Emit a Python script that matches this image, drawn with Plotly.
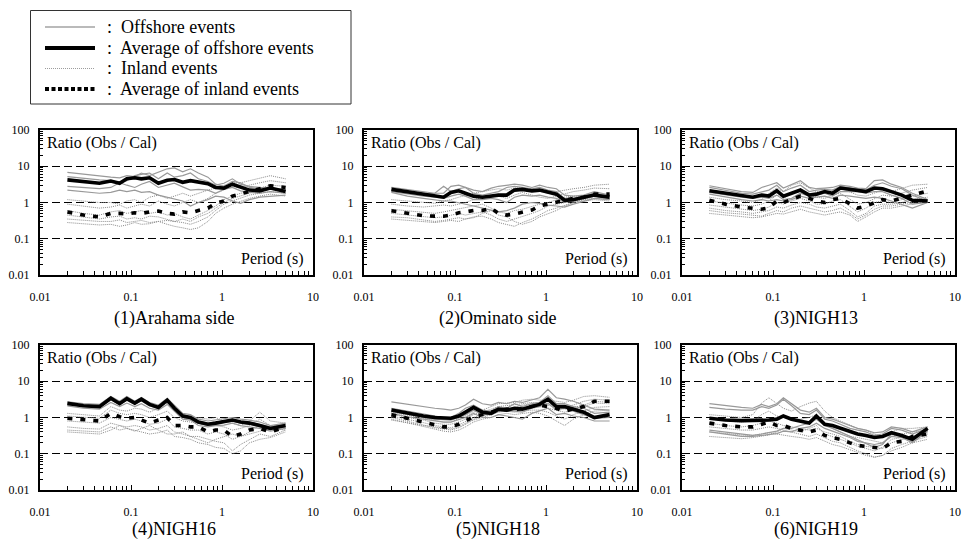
import plotly.graph_objects as go

# ---------------- data ----------------
PERIOD = [0.02, 0.03, 0.045, 0.06, 0.075, 0.09, 0.11, 0.13, 0.16, 0.2, 0.25, 0.3,
          0.37, 0.45, 0.55, 0.7, 0.85, 1.05, 1.3, 1.6, 2.0, 2.6, 3.4, 5.0]

TITLES = ["(1)Arahama side", "(2)Ominato side", "(3)NIGH13",
          "(4)NIGH16", "(5)NIGH18", "(6)NIGH19"]

X_TICKS = [0.01, 0.1, 1, 10]
X_TICK_TEXT = ["0.01", "0.1", "1", "10"]
Y_TICKS = [0.01, 0.1, 1, 10, 100]
Y_TICK_TEXT = ["0.01", "0.1", "1", "10", "100"]

LEGEND_LABELS = ["Offshore events", "Average of offshore events",
                 "Inland events", "Average of inland events"]

# (1) Arahama side
ARAHAMA_OFFSHORE = [
    [6.8, 6.0, 5.4, 5.0, 4.8, 5.5, 5.2, 6.5, 5.5, 7.0, 8.5, 9.0, 7.0, 8.5, 6.5, 5.0, 3.2, 2.8, 3.8, 3.5, 2.6, 2.4, 2.4, 2.1],
    [5.2, 4.6, 4.2, 4.0, 3.6, 4.0, 5.5, 6.0, 6.5, 4.5, 6.5, 5.0, 5.5, 6.5, 4.5, 3.8, 3.0, 3.4, 4.5, 3.2, 2.8, 2.6, 2.5, 2.3],
    [2.8, 2.6, 2.4, 2.6, 3.5, 3.0, 2.6, 3.2, 3.8, 2.6, 3.0, 3.4, 2.7, 2.2, 2.3, 2.2, 1.8, 2.3, 2.6, 2.1, 1.9, 1.8, 2.0, 1.8],
    [2.2, 2.0, 1.8, 1.9, 2.2, 2.0, 2.2, 1.9, 2.0, 1.6, 1.4, 1.2, 1.1, 0.8, 1.0, 1.2, 1.5, 1.4, 1.1, 0.95, 1.2, 1.4, 1.5, 1.6],
]
ARAHAMA_OFFSHORE_AVG = [4.2, 3.7, 3.4, 3.9, 3.4, 4.5, 4.8, 4.5, 4.8, 3.4, 4.1, 4.3, 3.6, 4.0, 3.6, 3.3, 2.6, 2.5, 3.2, 2.7, 2.2, 2.1, 2.5, 2.0]
ARAHAMA_INLAND = [
    [1.2, 1.1, 1.0, 1.0, 0.9, 1.1, 1.2, 1.0, 1.4, 1.6, 1.3, 1.5, 1.8, 1.5, 1.8, 2.2, 2.5, 3.0, 3.5, 3.5, 4.0, 4.5, 5.5, 4.5],
    [0.9, 0.8, 0.7, 0.75, 0.85, 0.7, 0.8, 0.9, 0.8, 1.1, 0.9, 0.8, 1.0, 1.2, 1.0, 1.3, 1.8, 2.2, 2.8, 2.5, 3.0, 3.5, 4.0, 3.5],
    [0.6, 0.5, 0.45, 0.55, 0.6, 0.5, 0.55, 0.6, 0.5, 0.55, 0.45, 0.5, 0.4, 0.35, 0.45, 0.6, 0.8, 1.2, 1.5, 1.8, 2.0, 2.2, 2.5, 2.2],
    [0.45, 0.4, 0.35, 0.4, 0.42, 0.35, 0.38, 0.35, 0.42, 0.4, 0.35, 0.3, 0.28, 0.25, 0.3, 0.4, 0.6, 0.9, 1.1, 1.3, 1.6, 1.8, 2.0, 1.8],
    [0.35, 0.32, 0.3, 0.3, 0.33, 0.28, 0.3, 0.32, 0.28, 0.3, 0.25, 0.22, 0.2, 0.18, 0.2, 0.3, 0.5, 0.7, 0.9, 1.1, 1.3, 1.5, 1.7, 1.5],
    [0.28, 0.26, 0.24, 0.25, 0.22, 0.24, 0.28, 0.25, 0.26, 0.3, 0.32, 0.3, 0.35, 0.3, 0.4, 0.5, 0.7, 1.0, 1.3, 1.5, 1.8, 2.5, 3.0, 2.8],
]
ARAHAMA_INLAND_AVG = [0.55, 0.45, 0.4, 0.5, 0.5, 0.48, 0.52, 0.5, 0.55, 0.58, 0.5, 0.48, 0.55, 0.52, 0.6, 0.7, 0.95, 1.1, 1.5, 1.7, 2.0, 2.4, 2.9, 2.6]

# (2) Ominato side
OMINATO_OFFSHORE = [
    [2.6, 2.3, 2.0, 1.8, 1.8, 2.8, 3.0, 2.6, 2.2, 2.0, 2.5, 2.8, 3.0, 3.2, 3.0, 2.6, 3.0, 2.6, 2.4, 1.6, 1.5, 1.6, 2.0, 1.6],
    [2.2, 1.9, 1.7, 1.8, 2.8, 2.0, 2.4, 2.6, 1.8, 1.6, 1.8, 2.0, 2.6, 2.8, 2.6, 2.4, 2.6, 2.2, 2.0, 1.3, 1.3, 1.5, 1.8, 1.5],
    [2.0, 1.7, 1.5, 1.4, 1.3, 1.5, 1.7, 1.5, 1.2, 1.2, 1.3, 1.2, 1.0, 1.4, 1.6, 1.5, 1.6, 1.4, 1.3, 1.0, 1.1, 1.3, 1.5, 1.3],
    [1.9, 1.5, 1.3, 1.2, 1.1, 1.1, 1.0, 0.9, 0.8, 0.7, 0.6, 0.55, 0.6, 0.7, 0.9, 1.0, 0.95, 0.85, 0.8, 0.75, 0.9, 1.1, 1.3, 1.2],
]
OMINATO_OFFSHORE_AVG = [2.3, 2.0, 1.7, 1.6, 1.4, 1.9, 2.1, 1.8, 1.5, 1.4, 1.5, 1.6, 1.6, 2.2, 2.3, 2.1, 2.2, 1.9, 1.7, 1.15, 1.2, 1.4, 1.6, 1.4]
OMINATO_INLAND = [
    [1.2, 1.1, 1.0, 0.95, 1.1, 1.2, 1.4, 1.6, 1.8, 2.0, 2.2, 2.4, 2.2, 2.5, 2.6, 2.3, 2.0, 1.8, 2.0, 2.2, 2.4, 2.6, 3.0, 3.2],
    [0.9, 0.8, 0.75, 0.8, 0.85, 0.8, 0.9, 1.0, 1.2, 1.4, 1.6, 1.5, 1.3, 1.6, 1.9, 1.6, 1.4, 1.3, 1.5, 1.8, 2.0, 2.2, 2.5, 2.4],
    [0.65, 0.6, 0.55, 0.5, 0.55, 0.6, 0.65, 0.7, 0.8, 0.9, 0.7, 0.55, 0.5, 0.6, 0.65, 0.8, 0.9, 1.0, 1.2, 1.4, 1.5, 1.5, 1.8, 1.6],
    [0.5, 0.45, 0.4, 0.38, 0.4, 0.45, 0.5, 0.45, 0.5, 0.55, 0.45, 0.35, 0.3, 0.35, 0.4, 0.5, 0.6, 0.8, 0.9, 1.0, 1.1, 1.2, 1.3, 1.2],
    [0.4, 0.38, 0.33, 0.3, 0.32, 0.35, 0.38, 0.35, 0.4, 0.42, 0.35, 0.28, 0.25, 0.22, 0.28, 0.35, 0.45, 0.6, 0.7, 0.85, 1.0, 1.1, 1.2, 1.1],
    [0.35, 0.32, 0.3, 0.28, 0.3, 0.32, 0.3, 0.35, 0.38, 0.5, 0.6, 0.45, 0.4, 0.3, 0.25, 0.3, 0.4, 0.5, 0.6, 0.8, 1.0, 1.2, 1.5, 1.3],
]
OMINATO_INLAND_AVG = [0.59, 0.5, 0.43, 0.42, 0.42, 0.45, 0.52, 0.55, 0.6, 0.6, 0.7, 0.5, 0.45, 0.48, 0.55, 0.62, 0.8, 0.9, 1.0, 1.1, 1.3, 1.4, 1.7, 1.7]

# (3) NIGH13
NIGH13_OFFSHORE = [
    [2.9, 2.4, 2.0, 1.9, 2.6, 3.0, 3.5, 2.5, 3.2, 4.0, 2.6, 2.4, 2.5, 2.6, 3.0, 2.8, 2.5, 2.4, 4.0, 4.2, 3.2, 2.6, 1.8, 1.2],
    [2.6, 2.2, 1.8, 1.7, 2.0, 2.2, 3.0, 2.0, 2.5, 3.0, 2.0, 2.2, 2.3, 2.2, 2.8, 2.6, 2.4, 2.2, 3.0, 3.5, 2.8, 2.4, 1.6, 1.1],
    [1.9, 1.6, 1.4, 1.3, 1.4, 1.3, 1.6, 1.2, 1.3, 1.8, 1.5, 1.6, 1.8, 1.5, 2.0, 2.0, 2.0, 1.8, 2.0, 2.0, 1.6, 1.3, 0.9, 1.0],
    [1.7, 1.4, 1.2, 1.1, 1.2, 1.1, 1.2, 1.1, 1.2, 1.5, 1.3, 1.4, 1.5, 1.3, 1.6, 1.5, 1.4, 1.3, 1.4, 1.3, 1.1, 0.9, 0.7, 1.0],
]
NIGH13_OFFSHORE_AVG = [2.1, 1.8, 1.5, 1.4, 1.6, 1.5, 2.1, 1.5, 1.8, 2.2, 1.6, 1.7, 2.0, 1.8, 2.5, 2.3, 2.2, 2.0, 2.5, 2.4, 2.0, 1.6, 1.15, 1.1]
NIGH13_INLAND = [
    [1.4, 1.2, 1.1, 1.0, 1.2, 1.8, 2.5, 2.0, 3.0, 3.5, 2.5, 2.0, 1.8, 2.2, 2.5, 2.0, 1.6, 1.5, 1.8, 2.2, 2.0, 2.5, 3.0, 3.2],
    [1.1, 0.95, 0.85, 0.8, 0.9, 1.1, 1.6, 1.3, 1.8, 2.0, 1.6, 1.4, 1.3, 1.6, 1.8, 1.2, 0.9, 1.0, 1.3, 1.6, 1.5, 1.8, 2.2, 2.6],
    [0.85, 0.75, 0.65, 0.6, 0.65, 0.75, 1.0, 0.9, 1.1, 1.3, 1.1, 0.9, 0.9, 1.1, 1.2, 0.8, 0.55, 0.7, 1.0, 1.1, 1.0, 1.2, 1.5, 1.8],
    [0.7, 0.6, 0.55, 0.5, 0.55, 0.6, 0.75, 0.7, 0.85, 1.0, 0.9, 0.75, 0.7, 0.8, 0.9, 0.6, 0.4, 0.5, 0.8, 0.9, 0.9, 1.0, 1.2, 1.4],
    [0.6, 0.52, 0.48, 0.45, 0.42, 0.5, 0.6, 0.55, 0.7, 0.8, 0.7, 0.6, 0.55, 0.6, 0.7, 0.5, 0.35, 0.45, 0.65, 0.8, 0.8, 0.9, 1.0, 1.2],
    [0.5, 0.45, 0.4, 0.38, 0.4, 0.45, 0.5, 0.48, 0.55, 0.65, 0.55, 0.5, 0.45, 0.5, 0.55, 0.45, 0.3, 0.4, 0.55, 0.7, 0.7, 0.8, 0.9, 1.1],
]
NIGH13_INLAND_AVG = [1.15, 0.9, 0.75, 0.68, 0.65, 0.72, 1.1, 1.0, 1.2, 1.5, 1.3, 1.1, 1.0, 1.2, 1.3, 0.95, 0.7, 0.8, 1.0, 1.2, 1.1, 1.3, 1.6, 2.1]

# (4) NIGH16
NIGH16_OFFSHORE = [
    [2.7, 2.4, 2.3, 3.8, 2.8, 3.8, 2.8, 3.6, 2.6, 2.2, 3.4, 2.2, 1.3, 1.2, 0.9, 0.8, 0.85, 0.9, 1.0, 0.9, 0.85, 0.75, 0.6, 0.7],
    [2.5, 2.2, 2.1, 3.5, 2.6, 3.4, 2.6, 3.3, 2.4, 2.0, 3.1, 1.9, 1.2, 1.05, 0.8, 0.7, 0.75, 0.8, 0.9, 0.8, 0.75, 0.65, 0.55, 0.65],
    [2.3, 2.0, 1.9, 3.1, 2.3, 3.0, 2.3, 2.9, 2.1, 1.8, 2.8, 1.7, 1.0, 0.9, 0.7, 0.6, 0.65, 0.7, 0.8, 0.7, 0.65, 0.55, 0.48, 0.55],
    [2.1, 1.8, 1.7, 2.6, 2.0, 2.5, 2.0, 2.4, 1.8, 1.6, 2.3, 1.5, 0.9, 0.85, 0.6, 0.55, 0.6, 0.62, 0.7, 0.6, 0.55, 0.5, 0.42, 0.5],
]
NIGH16_OFFSHORE_AVG = [2.45, 2.1, 2.0, 3.4, 2.4, 3.3, 2.5, 3.2, 2.3, 1.9, 3.0, 1.8, 1.1, 1.0, 0.75, 0.65, 0.7, 0.75, 0.85, 0.75, 0.7, 0.6, 0.5, 0.6]
NIGH16_INLAND = [
    [1.3, 1.2, 1.1, 2.0, 1.6, 1.5, 1.8, 1.7, 1.4, 1.8, 2.5, 1.5, 1.0, 0.9, 1.0, 0.9, 1.0, 0.8, 0.7, 0.6, 0.8, 1.4, 0.8, 0.7],
    [1.1, 1.0, 0.95, 1.6, 1.3, 1.2, 1.3, 1.2, 1.0, 1.2, 1.5, 1.0, 0.8, 0.75, 0.7, 0.6, 0.6, 0.55, 0.45, 0.5, 0.6, 0.9, 0.6, 0.6],
    [0.8, 0.75, 0.7, 1.0, 0.9, 0.8, 0.9, 0.8, 0.65, 0.7, 0.9, 0.55, 0.5, 0.45, 0.45, 0.35, 0.4, 0.35, 0.25, 0.3, 0.4, 0.6, 0.45, 0.5],
    [0.55, 0.5, 0.48, 0.7, 0.6, 0.55, 0.6, 0.55, 0.45, 0.5, 0.6, 0.4, 0.35, 0.3, 0.3, 0.25, 0.22, 0.2, 0.12, 0.18, 0.25, 0.35, 0.3, 0.45],
    [0.45, 0.42, 0.4, 0.55, 0.45, 0.5, 0.45, 0.4, 0.35, 0.38, 0.45, 0.3, 0.28, 0.25, 0.2, 0.18, 0.15, 0.14, 0.1, 0.12, 0.2, 0.25, 0.28, 0.4],
    [0.4, 0.38, 0.35, 0.45, 0.6, 0.5, 0.42, 0.5, 0.6, 0.45, 0.35, 0.35, 0.4, 0.3, 0.25, 0.2, 0.25, 0.3, 0.35, 0.3, 0.35, 0.4, 0.5, 0.45],
]
NIGH16_INLAND_AVG = [0.95, 0.85, 0.8, 1.3, 1.05, 0.95, 1.0, 0.85, 0.7, 0.85, 1.0, 0.6, 0.6, 0.55, 0.55, 0.4, 0.45, 0.45, 0.3, 0.35, 0.45, 0.5, 0.4, 0.55]

# (5) NIGH18
NIGH18_OFFSHORE = [
    [2.7, 2.3, 2.0, 1.8, 1.7, 1.6, 1.8, 2.2, 3.2, 2.4, 2.2, 2.6, 2.4, 2.8, 2.6, 3.0, 3.5, 6.0, 3.5, 3.2, 2.8, 2.2, 1.7, 1.6],
    [1.8, 1.5, 1.25, 1.1, 1.0, 1.0, 1.3, 1.8, 2.2, 1.6, 1.5, 2.0, 1.8, 2.4, 2.0, 2.4, 2.6, 4.0, 2.4, 2.4, 2.0, 1.8, 1.3, 1.4],
    [1.5, 1.2, 1.0, 0.9, 0.85, 0.85, 1.0, 1.2, 1.6, 1.2, 1.2, 1.5, 1.5, 1.5, 1.4, 1.8, 2.0, 2.5, 1.6, 1.8, 1.5, 1.2, 0.95, 1.0],
    [1.3, 1.05, 0.9, 0.8, 0.75, 0.75, 0.9, 1.0, 1.3, 1.0, 1.0, 1.2, 1.1, 1.0, 0.9, 1.3, 1.5, 1.8, 1.2, 1.3, 1.1, 1.0, 0.8, 0.8],
]
NIGH18_OFFSHORE_AVG = [1.6, 1.3, 1.1, 1.0, 0.95, 0.95, 1.1, 1.4, 1.9, 1.4, 1.3, 1.7, 1.6, 1.8, 1.7, 2.0, 2.3, 3.2, 2.0, 2.0, 1.7, 1.4, 1.0, 1.2]
NIGH18_INLAND = [
    [1.4, 1.15, 0.95, 0.8, 0.75, 0.75, 0.9, 1.1, 1.4, 1.6, 2.0, 2.4, 2.5, 2.6, 3.0, 3.2, 3.0, 3.0, 2.8, 2.6, 3.0, 3.8, 4.0, 3.6],
    [1.25, 1.0, 0.85, 0.7, 0.65, 0.65, 0.75, 0.9, 1.2, 1.4, 1.7, 2.0, 2.1, 2.2, 2.4, 2.6, 2.5, 2.4, 2.2, 2.0, 2.2, 2.8, 3.2, 3.0],
    [1.1, 0.9, 0.72, 0.6, 0.55, 0.52, 0.62, 0.75, 1.0, 1.2, 1.4, 1.6, 1.8, 1.7, 1.9, 2.0, 2.0, 1.8, 1.6, 1.4, 1.6, 2.0, 2.5, 2.4],
    [1.0, 0.8, 0.62, 0.52, 0.48, 0.45, 0.52, 0.65, 0.85, 1.0, 1.2, 1.4, 1.5, 1.4, 1.5, 1.6, 1.6, 1.4, 1.1, 0.9, 1.2, 1.5, 1.9, 2.0],
    [0.9, 0.72, 0.55, 0.48, 0.42, 0.4, 0.45, 0.55, 0.75, 0.9, 1.0, 1.2, 1.3, 1.2, 1.3, 1.4, 1.3, 1.1, 0.8, 0.6, 0.9, 1.2, 1.5, 1.6],
    [0.85, 0.7, 0.6, 0.55, 0.5, 0.48, 0.55, 0.7, 0.9, 1.1, 1.3, 1.5, 1.6, 1.9, 2.2, 2.4, 2.6, 2.2, 1.9, 1.7, 1.9, 2.2, 2.8, 2.6],
]
NIGH18_INLAND_AVG = [1.2, 0.95, 0.75, 0.62, 0.55, 0.55, 0.65, 0.8, 1.05, 1.2, 1.4, 1.6, 1.7, 1.6, 1.8, 2.0, 2.2, 2.0, 1.8, 1.5, 1.7, 2.0, 2.8, 2.8]

# (6) NIGH19
NIGH19_OFFSHORE = [
    [2.4, 2.1, 1.9, 1.8, 2.3, 2.0, 2.4, 3.5, 2.4, 1.6, 1.4, 1.8, 1.0, 0.9, 0.75, 0.6, 0.5, 0.45, 0.38, 0.4, 0.55, 0.5, 0.4, 0.55],
    [1.9, 1.7, 1.6, 1.6, 2.0, 1.8, 2.2, 3.2, 2.1, 1.3, 1.2, 1.6, 0.9, 0.8, 0.65, 0.5, 0.45, 0.4, 0.32, 0.35, 0.5, 0.45, 0.35, 0.5],
    [0.45, 0.4, 0.36, 0.32, 0.35, 0.38, 0.42, 0.5, 0.5, 0.6, 0.7, 0.9, 0.6, 0.5, 0.4, 0.3, 0.25, 0.2, 0.15, 0.18, 0.35, 0.3, 0.22, 0.45],
    [0.4, 0.35, 0.3, 0.3, 0.32, 0.34, 0.36, 0.42, 0.4, 0.5, 0.55, 0.7, 0.5, 0.42, 0.35, 0.28, 0.22, 0.2, 0.18, 0.2, 0.3, 0.28, 0.2, 0.42],
]
NIGH19_OFFSHORE_AVG = [0.95, 0.85, 0.82, 0.82, 0.85, 0.85, 0.9, 1.1, 0.9, 0.8, 0.7, 1.1, 0.65, 0.6, 0.5, 0.4, 0.35, 0.32, 0.28, 0.3, 0.38, 0.32, 0.25, 0.5]
NIGH19_INLAND = [
    [1.2, 1.1, 1.0, 1.2, 2.5, 3.5, 2.5, 1.8, 1.5, 2.0, 2.5, 2.8, 1.5, 1.0, 0.8, 0.6, 0.5, 0.45, 0.35, 0.3, 0.4, 0.5, 0.5, 0.55],
    [0.9, 0.8, 0.75, 0.8, 1.2, 1.5, 1.1, 1.0, 0.9, 0.9, 1.0, 1.2, 0.7, 0.5, 0.4, 0.3, 0.28, 0.25, 0.22, 0.2, 0.3, 0.35, 0.4, 0.45],
    [0.7, 0.6, 0.55, 0.6, 0.7, 0.8, 0.7, 0.6, 0.55, 0.5, 0.45, 0.5, 0.4, 0.35, 0.3, 0.22, 0.18, 0.16, 0.15, 0.14, 0.2, 0.25, 0.3, 0.35],
    [0.55, 0.5, 0.45, 0.45, 0.5, 0.55, 0.5, 0.45, 0.4, 0.35, 0.3, 0.35, 0.28, 0.22, 0.2, 0.15, 0.12, 0.1, 0.08, 0.09, 0.14, 0.18, 0.22, 0.3],
    [0.4, 0.36, 0.33, 0.32, 0.35, 0.38, 0.35, 0.32, 0.3, 0.28, 0.25, 0.28, 0.22, 0.18, 0.16, 0.13, 0.11, 0.09, 0.08, 0.09, 0.12, 0.15, 0.2, 0.25],
    [0.3, 0.28, 0.26, 0.28, 0.3, 0.33, 0.4, 0.5, 0.45, 0.4, 0.5, 0.6, 0.35, 0.3, 0.25, 0.2, 0.16, 0.14, 0.12, 0.15, 0.25, 0.28, 0.3, 0.4],
]
NIGH19_INLAND_AVG = [0.7, 0.6, 0.55, 0.55, 0.65, 0.75, 0.6, 0.6, 0.5, 0.45, 0.4, 0.45, 0.32, 0.28, 0.25, 0.2, 0.17, 0.16, 0.15, 0.14, 0.2, 0.22, 0.3, 0.35]

PANELS = [
    (ARAHAMA_OFFSHORE, ARAHAMA_OFFSHORE_AVG, ARAHAMA_INLAND, ARAHAMA_INLAND_AVG),
    (OMINATO_OFFSHORE, OMINATO_OFFSHORE_AVG, OMINATO_INLAND, OMINATO_INLAND_AVG),
    (NIGH13_OFFSHORE, NIGH13_OFFSHORE_AVG, NIGH13_INLAND, NIGH13_INLAND_AVG),
    (NIGH16_OFFSHORE, NIGH16_OFFSHORE_AVG, NIGH16_INLAND, NIGH16_INLAND_AVG),
    (NIGH18_OFFSHORE, NIGH18_OFFSHORE_AVG, NIGH18_INLAND, NIGH18_INLAND_AVG),
    (NIGH19_OFFSHORE, NIGH19_OFFSHORE_AVG, NIGH19_INLAND, NIGH19_INLAND_AVG),
]

# ---------------- layout / style ----------------
W, H = 963, 541
FONT = "Liberation Serif, Times New Roman, serif"


def px(x):
    return x / W


def py(y):
    return 1 - y / H


X_DOMAINS = [[px(40), px(313)], [px(364), px(637)], [px(682), px(955)]]
Y_DOMAINS = [[py(275), py(130)], [py(490), py(345)]]
TITLE_Y = [-0.297, -0.272]   # centre of the caption below each row (domain units)

STYLE_OFF = dict(color="#999999", width=1.2)
STYLE_OFF_AVG = dict(color="black", width=3.6)
STYLE_INL = dict(color="#8a8a8a", width=1, dash="1px,1px")
STYLE_INL_AVG = dict(color="black", width=3.6, dash="5px,8px")

fig = go.Figure()
layout = dict(
    template="none",
    width=W, height=H, autosize=False,
    margin=dict(l=0, r=0, t=0, b=0, pad=0, autoexpand=False),
    paper_bgcolor="white", plot_bgcolor="white", showlegend=False,
    hovermode=False, annotations=[], shapes=[],
)

for i, (off, off_avg, inl, inl_avg) in enumerate(PANELS):
    n = i + 1
    xa = "x" if n == 1 else f"x{n}"
    ya = "y" if n == 1 else f"y{n}"
    for s in inl:
        fig.add_trace(go.Scatter(x=PERIOD, y=s, xaxis=xa, yaxis=ya, mode="lines",
                                 line=STYLE_INL, name=LEGEND_LABELS[2]))
    for s in off:
        fig.add_trace(go.Scatter(x=PERIOD, y=s, xaxis=xa, yaxis=ya, mode="lines",
                                 line=STYLE_OFF, name=LEGEND_LABELS[0]))
    fig.add_trace(go.Scatter(x=PERIOD, y=inl_avg, xaxis=xa, yaxis=ya, mode="lines",
                             line=STYLE_INL_AVG, name=LEGEND_LABELS[3]))
    fig.add_trace(go.Scatter(x=PERIOD, y=off_avg, xaxis=xa, yaxis=ya, mode="lines",
                             line=STYLE_OFF_AVG, name=LEGEND_LABELS[1]))

    row, col = divmod(i, 3)
    xkey = "xaxis" if n == 1 else f"xaxis{n}"
    ykey = "yaxis" if n == 1 else f"yaxis{n}"
    layout[xkey] = dict(
        type="log", range=[-2, 1], domain=X_DOMAINS[col], anchor=ya, automargin=False,
        tickmode="array", tickvals=X_TICKS, ticktext=X_TICK_TEXT,
        ticks="inside", ticklen=5, tickwidth=1, tickcolor="black",
        minor=dict(ticks="inside", ticklen=4, tickwidth=1, tickcolor="black",
                   tickmode="array",
                   tickvals=[m * 10 ** e for e in (-2, -1, 0) for m in range(2, 10)],
                   showgrid=False),
        showgrid=False, zeroline=False, showline=True, mirror=True,
        linecolor="black", linewidth=2,
        tickfont=dict(family=FONT, size=12, color="black"),
        ticklabelstandoff=10,
    )
    layout[ykey] = dict(
        type="log", range=[-2, 2], domain=Y_DOMAINS[row], anchor=xa, automargin=False,
        tickmode="array", tickvals=Y_TICKS, ticktext=Y_TICK_TEXT,
        ticks="inside", ticklen=5, tickwidth=1, tickcolor="black",
        minor=dict(ticks="inside", ticklen=3, tickwidth=1, tickcolor="black",
                   tickmode="array",
                   tickvals=[m * 10 ** e for e in (-2, -1, 0, 1) for m in range(2, 10)],
                   showgrid=False),
        showgrid=True, gridcolor="black", gridwidth=1, griddash="8px,4px",
        zeroline=False, showline=True, mirror=True,
        linecolor="black", linewidth=2,
        tickfont=dict(family=FONT, size=12, color="black"),
        ticklabelstandoff=6,
    )
    layout["annotations"] += [
        dict(text="Ratio (Obs / Cal)", xref=f"{xa} domain", yref=f"{ya} domain",
             x=0.018, y=0.91, xanchor="left", yanchor="middle", showarrow=False,
             font=dict(family=FONT, size=16, color="black")),
        dict(text="Period (s)", xref=f"{xa} domain", yref=f"{ya} domain",
             x=0.975, y=0.113, xanchor="right", yanchor="middle", showarrow=False,
             font=dict(family=FONT, size=16, color="black")),
        dict(text=TITLES[i], xref=f"{xa} domain", yref=f"{ya} domain",
             x=0.49, y=TITLE_Y[row], xanchor="center", yanchor="middle", showarrow=False,
             font=dict(family=FONT, size=18, color="black")),
    ]

# ---------------- legend box (drawn in page pixels) ----------------
layout["shapes"].append(dict(type="rect", xref="paper", yref="paper",
                             x0=px(30.5), x1=px(351), y0=py(104), y1=py(10.5),
                             line=dict(color="#333333", width=1), fillcolor="white"))
LEGEND_ROWS_Y = [27, 48, 68.5, 89]
LEGEND_STYLES = [
    dict(color="#777777", width=1.2),
    dict(color="black", width=4),
    dict(color="#9c9c9c", width=1, dash="1px,1px"),
    dict(color="black", width=4, dash="4px,2.5px"),
]
for label, yy, st in zip(LEGEND_LABELS, LEGEND_ROWS_Y, LEGEND_STYLES):
    layout["shapes"].append(dict(type="line", xref="paper", yref="paper",
                                 x0=px(45), x1=px(95), y0=py(yy), y1=py(yy), line=st))
    layout["annotations"].append(dict(
        text=":  " + label, xref="paper", yref="paper", x=px(105), y=py(yy),
        xanchor="left", yanchor="middle", showarrow=False,
        font=dict(family=FONT, size=18, color="black")))

fig.update_layout(**layout)
fig.write_html("out.html")
